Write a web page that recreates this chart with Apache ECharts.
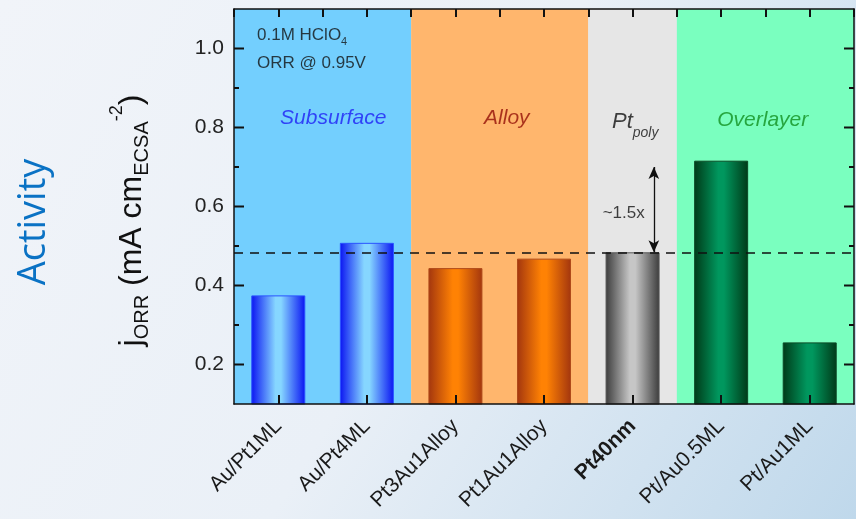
<!DOCTYPE html>
<html><head><meta charset="utf-8">
<script src="https://cdn.jsdelivr.net/npm/echarts@6/dist/echarts.min.js"></script>
<style>html,body{margin:0;padding:0;}#c{width:856px;height:519px;}</style>
</head><body><div id="c"></div>
<script>
// ---- data ----
const categories = ['Au/Pt1ML', 'Au/Pt4ML', 'Pt3Au1Alloy', 'Pt1Au1Alloy', 'Pt40nm', 'Pt/Au0.5ML', 'Pt/Au1ML'];
const activity = [0.375, 0.508, 0.444, 0.468, 0.484, 0.716, 0.256];
const categoryGroup = [0, 0, 1, 1, 2, 3, 3];
const referenceLevel = 0.484;   // Pt40nm reference (dashed)
const arrowTop = 0.70;          // top of the ~1.5x arrow
const yMajorTicks = [0.2, 0.4, 0.6, 0.8, 1.0];
const yMinorTicks = [0.3, 0.5, 0.7, 0.9];
const regionStart = [0, 2, 4, 5];  // first category index of each region
const regionEnd = [1, 3, 4, 6];    // last category index of each region

// ---- styles ----
const FONT = '"Liberation Sans", Arial, sans-serif';
const regionFill = ['#73CFFE', '#FFB66D', '#E6E6E6', '#7AFFBF'];
const barDark = ['#0A14F2', '#A3360E', '#3C3C3C', '#003A18'];
const barLight = ['#86D6FF', '#FF8204', '#C6C6C6', '#00975E'];
const barBorder = ['#2A52FF', '#B04A1A', '#555555', '#0A4A26'];

const chart = echarts.init(document.getElementById('c'));

function grad(i) {
  return new echarts.graphic.LinearGradient(0, 0, 1, 0, [
    { offset: 0, color: barDark[i] },
    { offset: 0.45, color: barLight[i] },
    { offset: 0.55, color: barLight[i] },
    { offset: 1, color: barDark[i] }
  ]);
}

const barData = activity.map((v, i) => ({
  value: v,
  itemStyle: { color: grad(categoryGroup[i]), borderColor: barBorder[categoryGroup[i]], borderWidth: 1 }
}));

// band axis (0..7): category i occupies [i, i+1]
const regionData = regionStart.map((s, k) => [s, regionEnd[k] + 1, k]);

function renderRegion(params, api) {
  const cs = params.coordSys;
  const p0 = api.coord([api.value(0), 1.1]);
  const p1 = api.coord([api.value(1), 1.1]);
  return { type: 'rect', shape: { x: p0[0], y: cs.y, width: p1[0] - p0[0], height: cs.height },
           style: { fill: regionFill[api.value(2)] } };
}

function lbl(text, extra) {
  return Object.assign({ show: true, formatter: text, position: 'inside', fontFamily: FONT, color: '#111' }, extra);
}

const annotations = [
  { value: [0.26, 1.034], label: lbl('{a|0.1M HClO}{s|4}', { align: 'left', rich: {
      a: { fontSize: 17, lineHeight: 20, fontFamily: FONT, color: '#111' },
      s: { fontSize: 11, lineHeight: 11, padding: [14, 0, 0, 0], fontFamily: FONT, color: '#111' } } }) },
  { value: [0.26, 0.963], label: lbl('ORR @ 0.95V', { align: 'left', fontSize: 17 }) },
  { value: [1.12, 0.824], label: lbl('Subsurface', { fontSize: 21, fontStyle: 'italic', color: '#1E1EF5' }) },
  { value: [3.08, 0.824], label: lbl('Alloy', { fontSize: 21, fontStyle: 'italic', color: '#941008' }) },
  { value: [4.53, 0.815], label: lbl('{i|Pt}{p|poly}', { rich: {
      i: { fontSize: 22, lineHeight: 24, fontStyle: 'italic', fontFamily: FONT, color: '#111' },
      p: { fontSize: 14, lineHeight: 14, fontStyle: 'italic', padding: [24, 0, 0, 0], fontFamily: FONT, color: '#111' } } }) },
  { value: [5.97, 0.818], label: lbl('Overlayer', { fontSize: 21, fontStyle: 'italic', color: '#12901F' }) },
  { value: [4.4, 0.583], label: lbl('~1.5x', { fontSize: 17 }) }
];

const axisLine = { show: true, onZero: false, lineStyle: { color: '#111', width: 1.5 } };
const tickStyle = { color: '#111', width: 2 };

// inward ticks on the left and right frame edges, placed through the axes' scales
function frameTicks(len) {
  return function (params, api) {
    const y = api.value(1);
    const pL = api.coord([0, y]);
    const pR = api.coord([7, y]);
    const st = { stroke: '#111', lineWidth: 2 };
    return { type: 'group', children: [
      { type: 'line', shape: { x1: pL[0], y1: pL[1], x2: pL[0] + len, y2: pL[1] }, style: st },
      { type: 'line', shape: { x1: pR[0], y1: pR[1], x2: pR[0] - len, y2: pR[1] }, style: st }
    ] };
  };
}

const option = {
  animation: false,
  backgroundColor: new echarts.graphic.LinearGradient(0, 0, 1, 1, [
    { offset: 0, color: '#F1F4F9' },
    { offset: 0.5, color: '#EAF0F7' },
    { offset: 1, color: '#BFD8EB' }
  ]),
  graphic: [{
    type: 'text', x: 34, y: 222, rotation: Math.PI / 2,
    style: { text: 'Activity', fill: '#0A72C4', font: '38px "Open Sans", sans-serif', textAlign: 'center', textVerticalAlign: 'middle' }
  }],
  grid: { left: 234, right: 2, top: 9, bottom: 115 },
  xAxis: [{
    type: 'category', data: categories, position: 'bottom', z: 10,
    axisLine: axisLine,
    axisTick: { show: true, inside: true, alignWithLabel: true, length: 9, lineStyle: tickStyle },
    axisLabel: {
      rotate: 45, interval: 0, margin: 19, fontSize: 21, fontFamily: FONT, color: '#1a1a1a',
      formatter: v => v === 'Pt40nm' ? '{b|' + v + '}' : v,
      rich: { b: { fontWeight: 'bold', fontSize: 21, fontFamily: FONT, color: '#1a1a1a' } }
    },
    splitLine: { show: false }
  }, {
    type: 'value', position: 'top', min: 0, max: 7, interval: 0.5, z: 10,
    axisLine: axisLine,
    axisTick: { show: true, inside: true, length: 8, lineStyle: tickStyle },
    axisLabel: { show: false }, splitLine: { show: false }
  }],
  yAxis: [{
    type: 'value', position: 'left', min: 0.1, max: 1.1, z: 10,
    axisLine: axisLine,
    axisTick: { show: false },
    axisLabel: { customValues: yMajorTicks, formatter: v => v.toFixed(1), fontSize: 21, margin: 10, fontFamily: FONT, color: '#222' },
    splitLine: { show: false },
    name: '{m|j}{s|ORR}{m| (mA cm}{s|ECSA}{p|-2}{m|)}',
    nameLocation: 'middle', nameGap: 85,
    nameTextStyle: { padding: [0, 28, 0, 0], rich: {
      m: { fontSize: 32, lineHeight: 34, fontFamily: FONT, color: '#111' },
      s: { fontSize: 20, lineHeight: 20, padding: [20, 0, 0, 0], fontFamily: FONT, color: '#111' },
      p: { fontSize: 18, lineHeight: 18, padding: [0, 0, 30, 0], fontFamily: FONT, color: '#111' }
    } }
  }, {
    type: 'value', position: 'right', min: 0.1, max: 1.1, z: 10,
    axisLine: axisLine, axisTick: { show: false },
    axisLabel: { show: false }, splitLine: { show: false }
  }],
  series: [{
    type: 'custom', xAxisIndex: 1, yAxisIndex: 0, z: 0, silent: true,
    renderItem: renderRegion, data: regionData
  }, {
    type: 'bar', xAxisIndex: 0, yAxisIndex: 0, barWidth: 54, z: 2,
    data: barData
  }, {
    type: 'scatter', xAxisIndex: 1, yAxisIndex: 0, symbolSize: 0, z: 6, silent: true,
    data: annotations,
    markLine: {
      silent: true, z: 5, symbol: ['none', 'none'],
      label: { show: false },
      lineStyle: { color: '#111', width: 1.5, type: [9, 7] },
      data: [
        [{ coord: [0, referenceLevel] }, { coord: [7, referenceLevel] }],
        [{ coord: [4.74, arrowTop], symbol: 'arrow', symbolSize: [8, 12], lineStyle: { type: 'solid', width: 1.3, color: '#111' } },
         { coord: [4.74, referenceLevel], symbol: 'arrow', symbolSize: [8, 12] }]
      ]
    }
  }, {
    type: 'custom', xAxisIndex: 1, yAxisIndex: 0, z: 12, silent: true, clip: false,
    renderItem: frameTicks(10),
    data: yMajorTicks.map(v => [0, v])
  }, {
    type: 'custom', xAxisIndex: 1, yAxisIndex: 0, z: 12, silent: true, clip: false,
    renderItem: frameTicks(5),
    data: yMinorTicks.map(v => [0, v])
  }]
};
chart.setOption(option);
</script>
</body></html>
